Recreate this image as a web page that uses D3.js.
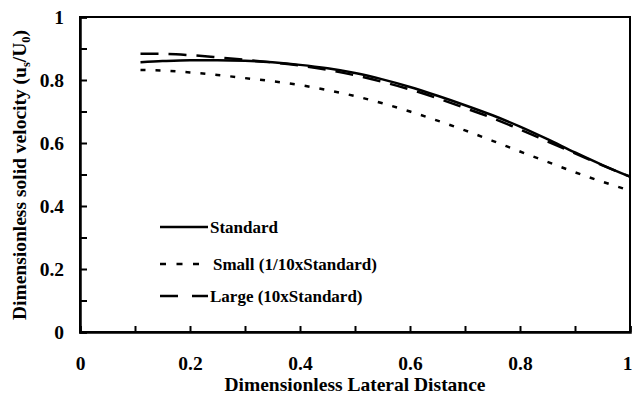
<!DOCTYPE html>
<html><head><meta charset="utf-8">
<script src="https://cdn.jsdelivr.net/npm/d3@7"></script>
<style>body{margin:0;background:#fff}svg{display:block}text{font-family:"Liberation Serif","Times New Roman",serif;font-weight:bold;fill:#000}</style>
</head><body>
<svg id="c" width="632" height="404"></svg>
<script>
const xVals = [0.11,0.15,0.2,0.25,0.3,0.35,0.4,0.45,0.5,0.55,0.6,0.65,0.7,0.75,0.8,0.85,0.9,0.95,1.0];
const standard = [0.856,0.860,0.863,0.863,0.861,0.856,0.848,0.837,0.822,0.802,0.778,0.750,0.720,0.688,0.652,0.612,0.570,0.530,0.493];
const small    = [0.832,0.830,0.824,0.816,0.806,0.796,0.784,0.768,0.749,0.726,0.700,0.671,0.640,0.607,0.573,0.540,0.507,0.477,0.449];
const large    = [0.883,0.883,0.879,0.872,0.864,0.856,0.846,0.832,0.815,0.794,0.770,0.742,0.711,0.679,0.643,0.605,0.567,0.529,0.493];
const seriesNames = ["Standard","Small (1/10xStandard)","Large (10xStandard)"];
const xTicks = [0,0.1,0.2,0.3,0.4,0.5,0.6,0.7,0.8,0.9,1];
const yTicks = [0,0.1,0.2,0.3,0.4,0.5,0.6,0.7,0.8,0.9,1];
const majorLabels = {0:"0",0.2:"0.2",0.4:"0.4",0.6:"0.6",0.8:"0.8",1:"1"};

const svg = d3.select("#c");
const L=80,R=630,T=17,B=332;
const x = d3.scaleLinear().domain([0,1]).range([L,R]);
const y = d3.scaleLinear().domain([0,1]).range([B,T]);
const lbl = v => { const k = Math.round(v*10)/10; return majorLabels[k] !== undefined ? majorLabels[k] : ""; };

// frame
svg.append("rect").attr("x",L).attr("y",T).attr("width",R-L).attr("height",B-T)
  .attr("fill","none").attr("stroke","#000").attr("stroke-width",2);

const gx = svg.append("g").attr("transform",`translate(0,${B})`)
  .call(d3.axisBottom(x).tickValues(xTicks).tickSize(-6).tickPadding(24).tickFormat(lbl));
const gy = svg.append("g").attr("transform",`translate(${L},0)`)
  .call(d3.axisLeft(y).tickValues(yTicks).tickSize(-7).tickPadding(16).tickFormat(lbl));
[gx,gy].forEach(g=>{
  g.attr("font-family",null);
  g.select(".domain").attr("stroke","#000").attr("stroke-width",2.5);
  g.selectAll(".tick line").attr("stroke","#000").attr("stroke-width",2);
  g.selectAll("text").attr("font-size",19.5).attr("fill","#000");
});
// keep the last x label inside the window
gx.selectAll(".tick").filter(d=>d===1).select("text").attr("text-anchor","end").attr("x",2);

const line = d3.line().x((d,i)=>x(xVals[i])).y(d=>y(d)).curve(d3.curveMonotoneX);
const styles = [
  {data:standard, dash:null},
  {data:small, dash:"5,10"},
  {data:large, dash:"18,10"}
];
styles.forEach(s=>{
  svg.append("path").attr("d",line(s.data)).attr("fill","none").attr("stroke","#000")
    .attr("stroke-width",2.5).attr("stroke-dasharray",s.dash);
});

// legend
const legY = [227,264,296];
const legDash = [null,"6,10.5","18,14"];
const legTx = [210,213,210];
seriesNames.forEach((n,i)=>{
  svg.append("line").attr("x1",160).attr("x2",i===1?199:208).attr("y1",legY[i]).attr("y2",legY[i])
    .attr("stroke","#000").attr("stroke-width",2.5).attr("stroke-dasharray",legDash[i]);
  svg.append("text").attr("x",legTx[i]).attr("y",legY[i]+5.5).attr("font-size",17).text(n);
});

// axis titles
svg.append("text").attr("x",355).attr("y",391).attr("text-anchor","middle").attr("font-size",19.5)
  .text("Dimensionless Lateral Distance");
const yt = svg.append("text").attr("transform","translate(26,175) rotate(-90)").attr("text-anchor","middle").attr("font-size",19.5);
yt.append("tspan").text("Dimensionless solid velocity (u");
yt.append("tspan").attr("font-size",12.5).attr("dy",4).text("s");
yt.append("tspan").attr("dy",-4).text("/U");
yt.append("tspan").attr("font-size",12.5).attr("dy",4).text("0");
yt.append("tspan").attr("dy",-4).text(")");
</script>
</body></html>
